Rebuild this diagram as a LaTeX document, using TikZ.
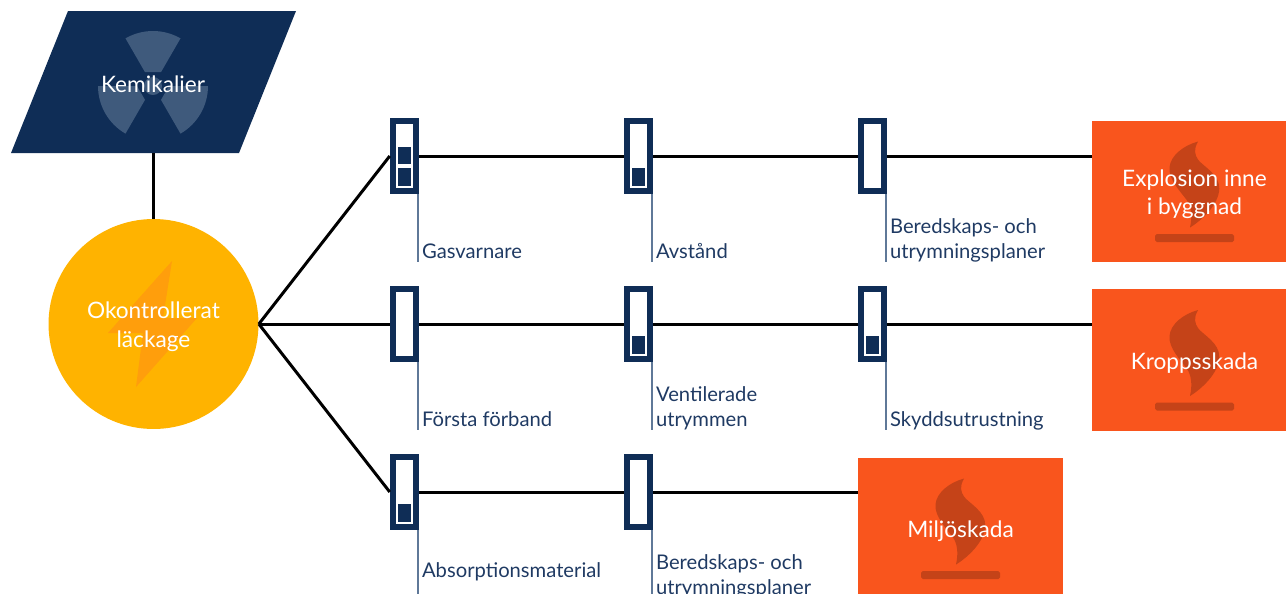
\documentclass[tikz,border=0pt]{standalone}
\usepackage{fontspec}
\setmainfont{Lato}
\usetikzlibrary{calc}

\definecolor{navy}{HTML}{0F2D56}
\definecolor{navytext}{HTML}{1F3A63}
\definecolor{refgray}{HTML}{5F7898}
\definecolor{bladegray}{HTML}{3F5A7C}
\definecolor{amber}{HTML}{FFB300}
\definecolor{boltorange}{HTML}{FF9E0C}
\definecolor{hazard}{HTML}{F9551D}
\definecolor{flamered}{HTML}{C54318}

\newcommand{\flamemark}[1]{%
  \begin{scope}[shift={(#1.center)}]
    \fill[flamered]
      (3.5,-50) .. controls (-1,-42) and (0,-37) .. (3.8,-31.5)
      .. controls (9,-25) and (25,-17) .. (24.8,-3)
      .. controls (24.5,13) and (7,29) .. (-4.5,36)
      .. controls (-2,25) and (-3,15) .. (-7.8,8.5)
      .. controls (-14,0) and (-26,-12) .. (-25,-24)
      .. controls (-24,-36) and (-11,-46) .. (3.5,-50) -- cycle;
    \fill[flamered,rounded corners=1pt] (-39.5,42.5) rectangle (39.5,50.5);
  \end{scope}
}

\tikzset{
  conn/.style={line width=1.7pt,black},
  bigtext/.style={text=white,align=center,inner sep=0pt,yshift=-1.5pt,
    font=\fontsize{12.9}{16.2}\selectfont},
  reflabel/.style={anchor=south west,align=left,inner sep=0pt,text=navytext,
    font=\fontsize{11.5}{14}\selectfont},
  refline/.style={line width=1pt,refgray},
  barrier/.style={draw=navy,line width=3.4pt,fill=white,rectangle,inner sep=0pt,
    minimum width=0.47cm,minimum height=1.41cm},
  outcome/.style={rectangle,fill=hazard,inner sep=0pt,
    minimum width=4.1cm,minimum height=2.84cm},
}

\begin{document}
\begin{tikzpicture}[x=0.02cm,y=-0.02cm]
\useasboundingbox (0,0) rectangle (1286,593);
\clip (0,0) rectangle (1286,593);

% Source
\fill[navy] (68,11) -- (296,11) -- (239,153) -- (11,153) -- cycle;
\foreach \a in {-90,30,150} {
  \fill[bladegray,shift={(153,86)}] (\a-30:16) -- (\a-30:55)
    arc[start angle=\a-30,end angle=\a+30,radius=55] -- (\a+30:16) -- cycle;
}
\fill[bladegray] (153,86) circle (9);
\node[bigtext] (kemi) at (153,82) {Kemikalier};
\coordinate (kemibot) at (153.5,153);

% Event
\node[circle,fill=amber,minimum size=4.2cm,inner sep=0pt] (okl) at (153.5,324) {};
\fill[boltorange] (172,261) -- (108,333) -- (143,333) -- (136,387) -- (197,318) -- (163,318) -- cycle;
\node[bigtext] (okltext) at (okl.center) {Okontrollerat\\läckage};

% Barriers with reference lines and labels
\foreach \name/\x/\y/\lvl/\up/\txt in {
  ga/404.5/156/2/0/Gasvarnare,
  av/638.5/156/1/0/Avstånd,
  be/872.5/156/0/0/{Beredskaps- och\\utrymningsplaner},
  fo/404.5/324/0/0/Första förband,
  ve/638.5/324/1/0/{Ventilerade\\utrymmen},
  sk/872.5/324/1/0/Skyddsutrustning,
  ab/404.5/492/1/17/Absorptionsmaterial,
  pl/638.5/492/0/0/{Beredskaps- och\\utrymningsplaner}} {
  \node[barrier] (\name) at (\x,\y) {};
  \ifnum\lvl>0
    \fill[navy] ($(\name.center)+(-6.5,12)$) rectangle +(13,18);
  \fi
  \ifnum\lvl>1
    \fill[navy] ($(\name.center)+(-6.5,-9)$) rectangle +(13,17);
  \fi
  \coordinate (\name end) at ($(\name.south east)+(-1,68)$);
  \draw[refline] ($(\name.south east)+(-1,0)$) -- (\name end);
  \node[reflabel] (\name label) at ($(\name end)+(3.5,-\up)$) {\txt\vphantom{gy}};
}

% Outcomes
\node[outcome] (ex) at (1194.5,191.5) {};
\node[outcome] (kr) at (1194.5,360) {};
\node[outcome] (mi) at (960.5,528.5) {};
\flamemark{ex}
\flamemark{kr}
\flamemark{mi}
\node[bigtext] (extext) at (ex.center) {Explosion inne\\i byggnad};
\node[bigtext] (krtext) at (kr.center) {Kroppsskada};
\node[bigtext] (mitext) at (mi.center) {Miljöskada};

% Connectors
\draw[conn] (kemibot) -- (okl.north);
\draw[conn] (okl.east) -- (ga.west);
\draw[conn] (okl.east) -- (fo.west);
\draw[conn] (okl.east) -- (ab.west);
\draw[conn] (ga) -- (av);
\draw[conn] (av) -- (be);
\draw[conn] (be) -- (be -| ex.west);
\draw[conn] (fo) -- (ve);
\draw[conn] (ve) -- (sk);
\draw[conn] (sk) -- (sk -| kr.west);
\draw[conn] (ab) -- (pl);
\draw[conn] (pl) -- (pl -| mi.west);
\end{tikzpicture}
\end{document}
